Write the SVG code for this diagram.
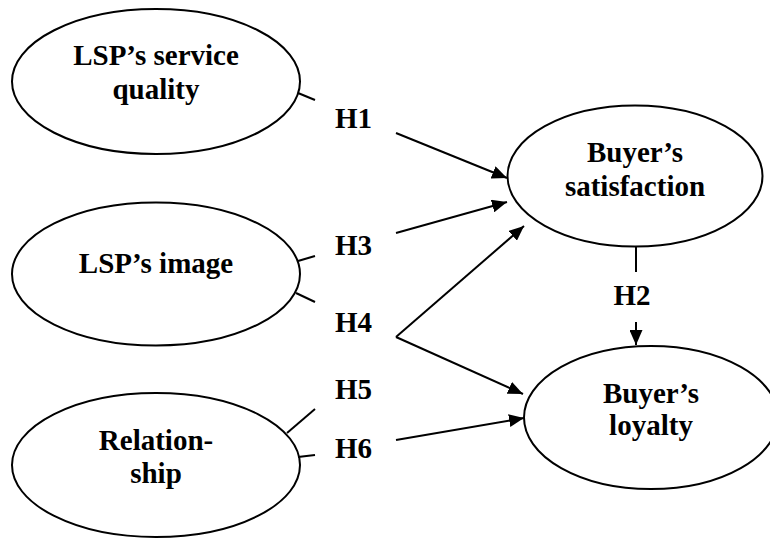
<svg xmlns="http://www.w3.org/2000/svg" width="770" height="538" viewBox="0 0 770 538">
<defs>
<marker id="ah" markerUnits="userSpaceOnUse" markerWidth="16" markerHeight="13" refX="15" refY="6.5" orient="auto">
<path d="M0,0 L15,6.5 L0,13 z" fill="#000"/>
</marker>
<style>
.n{fill:#fff;stroke:#000;stroke-width:2}
.t{font-weight:bold;font-size:29px;fill:#000}
.c{text-anchor:middle}
.l{fill:none;stroke:#000;stroke-width:2}
</style>
</defs>
<rect width="770" height="538" fill="#fff"/>
<g font-family="Liberation Serif, Times New Roman, serif">
<g id="n-quality">
<ellipse class="n" cx="156" cy="81.5" rx="144" ry="72.5"/>
<text class="t c" x="156" y="65">LSP’s service</text>
<text class="t c" x="156" y="99">quality</text>
</g>
<g id="n-image">
<ellipse class="n" cx="156" cy="274" rx="144" ry="71.5"/>
<text class="t c" x="156" y="273">LSP’s image</text>
</g>
<g id="n-relationship">
<ellipse class="n" cx="156" cy="465" rx="144" ry="72"/>
<text class="t c" x="156" y="450">Relation-</text>
<text class="t c" x="156" y="483">ship</text>
</g>
<g id="n-satisfaction">
<ellipse class="n" cx="635" cy="176" rx="127.5" ry="70.5"/>
<text class="t c" x="635" y="162">Buyer’s</text>
<text class="t c" x="635" y="196">satisfaction</text>
</g>
<g id="n-loyalty">
<ellipse class="n" cx="651" cy="417.5" rx="127" ry="71.5"/>
<text class="t c" x="651" y="403">Buyer’s</text>
<text class="t c" x="651" y="435">loyalty</text>
</g>
<g id="connectors">
<line class="l" x1="298" y1="93" x2="315" y2="100"/>
<line class="l" x1="396" y1="133" x2="507" y2="178" marker-end="url(#ah)"/>
<line class="l" x1="298" y1="261" x2="315" y2="256"/>
<line class="l" x1="396" y1="233" x2="507" y2="202" marker-end="url(#ah)"/>
<line class="l" x1="296" y1="293" x2="315" y2="302"/>
<line class="l" x1="396" y1="337" x2="524" y2="226" marker-end="url(#ah)"/>
<line class="l" x1="396" y1="337" x2="523" y2="394" marker-end="url(#ah)"/>
<line class="l" x1="287" y1="433" x2="315" y2="409"/>
<line class="l" x1="298" y1="457" x2="315" y2="455"/>
<line class="l" x1="396" y1="440" x2="524" y2="418" marker-end="url(#ah)"/>
<line class="l" x1="636" y1="247" x2="636" y2="272"/>
<line class="l" x1="636" y1="322" x2="636" y2="345" marker-end="url(#ah)"/>
<text class="t" x="335" y="128">H1</text>
<text class="t c" x="632" y="305">H2</text>
<text class="t" x="335" y="255">H3</text>
<text class="t" x="335" y="332">H4</text>
<text class="t" x="335" y="399">H5</text>
<text class="t" x="335" y="458">H6</text>
</g>
</g>
</svg>
